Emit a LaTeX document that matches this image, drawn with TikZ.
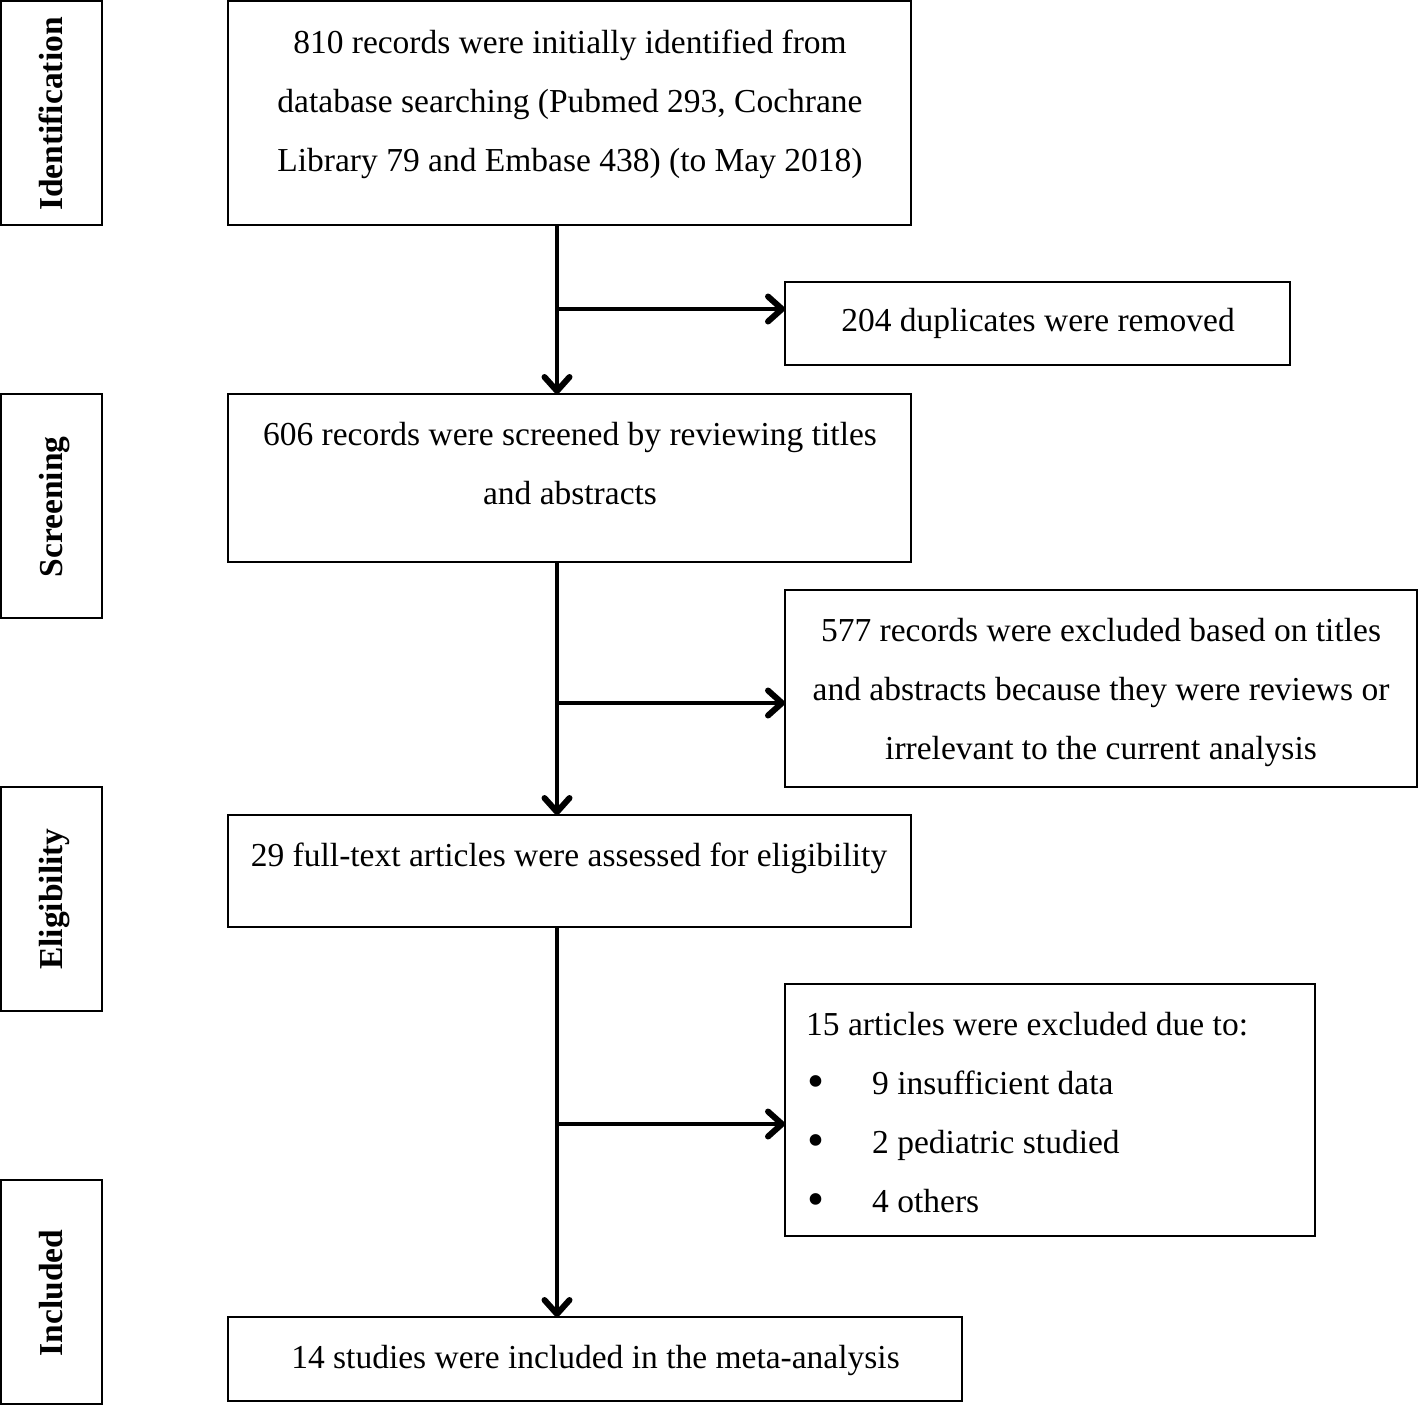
\documentclass[tikz,border=0pt]{standalone}
\usepackage{fontspec}
\setmainfont{Liberation Serif}
\usetikzlibrary{arrows.meta}
\newcommand{\mybul}{\makebox[66pt][l]{\hspace{1pt}\raisebox{-3pt}{\scalebox{1.45}{\textbullet}}}}
\begin{document}
\begin{tikzpicture}[x=1pt,y=-1pt,
  box/.style={draw, line width=2.5pt, inner sep=0pt, outer sep=0pt},
  txt/.style={inner sep=0pt, font=\fontsize{33.5}{59}\selectfont, align=center},
  phase/.style={inner sep=0pt, font=\fontsize{33.5}{40}\selectfont\bfseries, rotate=90, anchor=base},
  arr/.style={line width=4pt, -{Straight Barb[length=14pt,width=25pt,line width=6pt,round]}}]
\useasboundingbox (0,0) rectangle (1418,1406);

% phase boxes
\node[box, minimum width=101pt, minimum height=224pt] (p1) at (51.5,113) {};
\node[box, minimum width=101pt, minimum height=224pt] (p2) at (51.5,506) {};
\node[box, minimum width=101pt, minimum height=224pt] (p3) at (51.5,899) {};
\node[box, minimum width=101pt, minimum height=224pt] (p4) at (51.5,1292) {};
\node[phase] (l1) at (62,114) {Identification};
\node[phase] (l2) at (62,507) {Screening};
\node[phase] (l3) at (62,899) {Eligibility};
\node[phase] (l4) at (62,1293) {Included};

% main boxes
\node[box, minimum width=683pt, minimum height=224pt] (b1) at (569.5,113) {};
\node[txt, anchor=north] (t1) at (570,30) {810 records were initially identified from\\database searching (Pubmed 293, Cochrane\\Library 79 and Embase 438) (to May 2018)};

\node[box, minimum width=505pt, minimum height=83pt] (dup) at (1037.5,323.5) {};
\node[txt, anchor=base] (tdup) at (1038,331) {204 duplicates were removed};

\node[box, minimum width=683pt, minimum height=168pt] (b2) at (569.5,478) {};
\node[txt, anchor=north] (t2) at (570,422) {606 records were screened by reviewing titles\\and abstracts};

\node[box, minimum width=632pt, minimum height=197pt] (ex1) at (1101,688.5) {};
\node[txt, anchor=north] (tex1) at (1101,618) {577 records were excluded based on titles\\and abstracts because they were reviews or\\irrelevant to the current analysis};

\node[box, minimum width=683pt, minimum height=112pt] (b3) at (569.5,871) {};
\node[txt, anchor=base] (t3) at (569,866) {29 full-text articles were assessed for eligibility};

\node[box, minimum width=530pt, minimum height=252pt] (ex2) at (1050,1110) {};
\node[txt, align=left, anchor=north west] (tex2) at (806,1012) {15 articles were excluded due to:\\
\mybul 9 insufficient data\\
\mybul 2 pediatric studied\\
\mybul 4 others};

\node[box, minimum width=734pt, minimum height=84pt] (b4) at (595,1359) {};
\node[txt, anchor=base] (t4) at (595.5,1368) {14 studies were included in the meta-analysis};

% connectors
\coordinate (trunk) at (557,0);
\coordinate (j1) at (557,309);
\coordinate (j2) at (557,703);
\coordinate (j3) at (557,1124);
\draw[arr] (trunk |- b1.south) -- (trunk |- b2.north);
\draw[arr] (trunk |- b2.south) -- (trunk |- b3.north);
\draw[arr] (trunk |- b3.south) -- (trunk |- b4.north);
\draw[arr] (j1) -- (j1 -| dup.west);
\draw[arr] (j2) -- (j2 -| ex1.west);
\draw[arr] (j3) -- (j3 -| ex2.west);
\end{tikzpicture}
\end{document}
